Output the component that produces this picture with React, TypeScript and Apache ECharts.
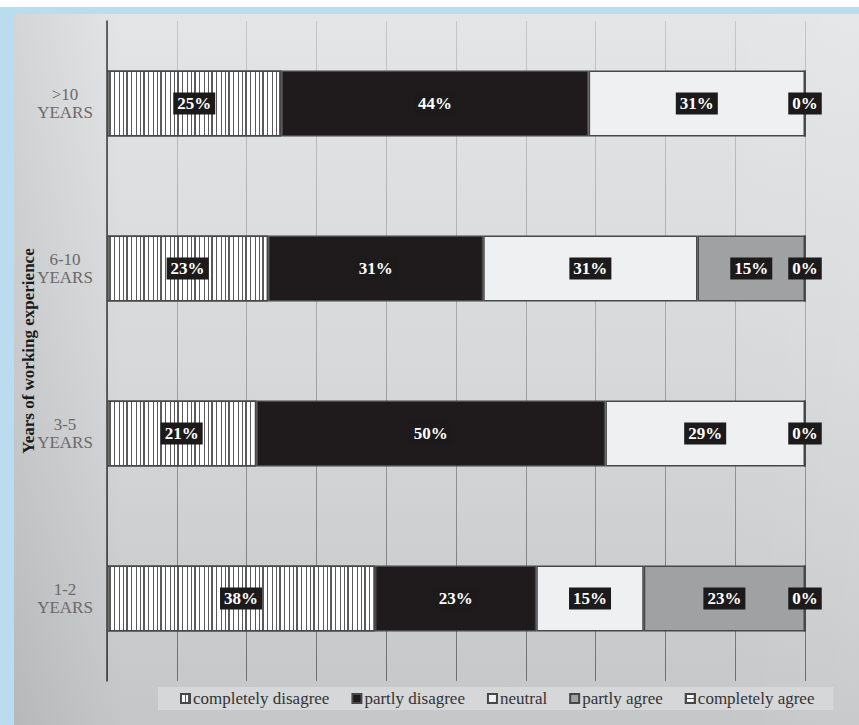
import React, { useEffect, useRef } from "react";
import * as echarts from "echarts";

const categories = ["1-2\nYEARS", "3-5\nYEARS", "6-10\nYEARS", ">10\nYEARS"];
const seriesNames = ["completely disagree", "partly disagree", "neutral", "partly agree", "completely agree"];
const completelyDisagree = [38.4, 21.4, 23.1, 25];
const partlyDisagree = [23.1, 50, 30.8, 44];
const neutral = [15.4, 28.6, 30.7, 31];
const partlyAgree: (number | null)[] = [23.1, null, 15.4, null];
const completelyAgree = [0, 0, 0, 0];
const xTicks = { min: 0, max: 100, interval: 10 };
const yAxisTitle = "Years of working experience";

const SERIF = "'Liberation Serif', 'Times New Roman', serif";

export default function App() {
  const ref = useRef<HTMLDivElement>(null);
  useEffect(() => {
    if (!ref.current) return;
    const chart = echarts.init(ref.current, undefined, { renderer: "svg" });
    const border = { borderColor: "#474747", borderWidth: 1.5 };
    const label = {
      show: true,
      position: "inside",
      formatter: (p: any) => Math.round(p.value) + "%",
      color: "#ffffff",
      fontWeight: "bold",
      fontSize: 17,
      fontFamily: SERIF,
      backgroundColor: "#1c1a1a",
      padding: [3, 4, 2, 4],
    };
    const styles: any[] = [
      {
        color: "#ffffff",
        ...border,
        decal: {
          symbol: "rect",
          symbolSize: 1,
          dashArrayX: [1, 3, 1, 2, 2, 3, 1, 4],
          dashArrayY: [10, 0],
          rotation: 0,
          color: "#5a5a5a",
        },
      },
      { color: "#1f1b1c", ...border },
      { color: "#eff0f1", ...border },
      { color: "#9fa1a3", ...border },
      {
        color: "#ffffff",
        ...border,
        decal: {
          symbol: "rect",
          symbolSize: 1,
          dashArrayX: [10, 0],
          dashArrayY: [1, 3],
          rotation: 0,
          color: "#4a4a4a",
        },
      },
    ];
    const dataSets = [completelyDisagree, partlyDisagree, neutral, partlyAgree, completelyAgree];
    chart.setOption({
      animation: false,
      grid: { left: 107, right: 54, top: 21, bottom: 44 },
      legend: {
        data: seriesNames,
        left: 158,
        top: 687,
        backgroundColor: "#d5d7d9",
        padding: [3, 19, 3, 22],
        itemWidth: 9,
        itemHeight: 9,
        itemGap: 22,
        icon: "rect",
        textStyle: { fontSize: 17, fontFamily: SERIF, color: "#333333", padding: [0, 0, 0, -2] },
      },
      xAxis: {
        type: "value",
        min: xTicks.min,
        max: xTicks.max,
        interval: xTicks.interval,
        axisLabel: { show: false },
        axisLine: { show: false },
        axisTick: { show: false },
        splitLine: {
          show: true,
          lineStyle: {
            width: 1,
            color: new echarts.graphic.LinearGradient(
              0, 21, 0, 681,
              [
                { offset: 0, color: "#c4c6c8" },
                { offset: 0.5, color: "#a4a6a8" },
                { offset: 1, color: "#6c6e70" },
              ],
              true
            ),
          },
        },
      },
      yAxis: {
        type: "category",
        data: categories,
        name: yAxisTitle,
        nameLocation: "middle",
        nameGap: 70,
        nameMoveOverlap: false,
        nameTextStyle: { fontSize: 17, fontWeight: "bold", fontFamily: SERIF, color: "#1a1a1a" },
        axisLine: { show: true, lineStyle: { color: "#3a3a3a", width: 1.5 } },
        axisTick: { show: false },
        axisLabel: {
          color: "#6a6a6a",
          fontSize: 17,
          fontFamily: SERIF,
          lineHeight: 18,
          align: "center",
          margin: 42,
        },
        splitLine: { show: false },
      },
      series: seriesNames.map((name, i) => ({
        name,
        type: "bar",
        stack: "total",
        barWidth: 66,
        clip: false,
        data: dataSets[i],
        itemStyle: styles[i],
        label,
      })),
    });
    return () => chart.dispose();
  }, []);

  return (
    <div style={{ position: "fixed", left: 0, top: 0, width: 859, height: 725, background: "#ffffff", overflow: "hidden" }}>
      <div style={{ position: "absolute", left: 0, top: 7, width: 859, height: 718, background: "#b9dcef" }} />
      <div
        style={{
          position: "absolute",
          left: 14,
          top: 14,
          right: 0,
          bottom: 0,
          background:
            "linear-gradient(to right, rgba(0,0,0,0.07) 0px, rgba(0,0,0,0) 110px, rgba(255,255,255,0) 700px, rgba(255,255,255,0.08) 845px), linear-gradient(to bottom, #e3e5e7 0%, #d6d8da 50%, #c4c6c8 100%)",
        }}
      />
      <div ref={ref} style={{ position: "absolute", left: 0, top: 0, width: 859, height: 725 }} />
    </div>
  );
}
